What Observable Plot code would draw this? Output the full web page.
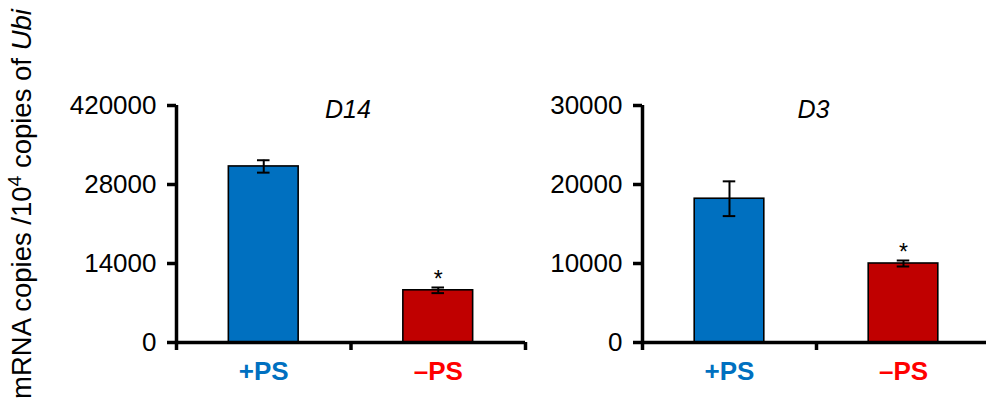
<!DOCTYPE html>
<html>
<head>
<meta charset="utf-8">
<script src="https://cdn.jsdelivr.net/npm/d3@7"></script>
<script src="https://cdn.jsdelivr.net/npm/@observablehq/plot@0.6"></script>
<style>
  html, body { margin: 0; padding: 0; background: #fff; overflow: hidden; }
  body { width: 986px; height: 411px; position: relative; font-family: "Liberation Sans", Arial, sans-serif; }
  .panel { position: absolute; top: 0; width: 530px; height: 411px; }
  .panel svg { max-width: none !important; }
  .ytitle {
    position: absolute; left: 22px; top: 204px; white-space: nowrap;
    transform: translate(-50%, -50%) rotate(-90deg);
    font-size: 27.5px; color: #000; line-height: 1;
  }
  .ytitle sup { font-size: 0.7em; vertical-align: 0.55em; line-height: 0; }
</style>
</head>
<body>
<div class="ytitle">mRNA copies /10<sup>4</sup> copies of <i>Ubi</i></div>
<div id="p1" class="panel" style="left:0px"></div>
<div id="p2" class="panel" style="left:466px"></div>
<script>
// ---- data ----
const groups = ["+PS", "–PS"];
const groupLabelColors = ["#0070C0", "#FF0000"];
const barColors = ["#0070C0", "#C00000"];
const significant = [false, true];

const d14Title = "D14";
const d14Values = [31200, 9250];
const d14Errors = [1100, 500];
const d14Ticks = [0, 14000, 28000, 42000];
const d14TickLabels = ["0", "14000", "28000", "420000"];

const d3Title = "D3";
const d3Values = [18200, 10000];
const d3Errors = [2200, 380];
const d3Ticks = [0, 10000, 20000, 30000];
const d3TickLabels = ["0", "10000", "20000", "30000"];

const FONT = "Liberation Sans, Arial, sans-serif";

function panel({title, values, errors, ticks, tickLabels, width, marginRight}) {
  const rows = groups.map((g, i) => ({
    group: g, idx: i, center: i + 0.5,
    value: values[i], err: errors[i],
    lo: values[i] - errors[i], hi: values[i] + errors[i],
    fill: barColors[i], labelColor: groupLabelColors[i], sig: significant[i]
  }));
  const halfBar = 0.2;
  const halfCap = 0.036;
  const svg = Plot.plot({
    width, height: 411,
    marginLeft: 176, marginRight, marginTop: 105, marginBottom: 69,
    style: {fontFamily: FONT, background: "transparent", overflow: "visible", maxWidth: "none"},
    x: {type: "linear", domain: [0, groups.length], axis: null},
    y: {domain: [ticks[0], ticks[ticks.length - 1]], axis: null},
    marks: [
      Plot.rectY(rows, {
        x1: d => d.center - halfBar, x2: d => d.center + halfBar,
        y1: 0, y2: "value", fill: d => d.fill, stroke: "#000", strokeWidth: 1.6
      }),
      Plot.ruleX(rows, {x: "center", y1: "lo", y2: "hi", stroke: "#000", strokeWidth: 2}),
      Plot.ruleY(rows, {y: "hi", x1: d => d.center - halfCap, x2: d => d.center + halfCap, stroke: "#000", strokeWidth: 2}),
      Plot.ruleY(rows, {y: "lo", x1: d => d.center - halfCap, x2: d => d.center + halfCap, stroke: "#000", strokeWidth: 2}),
      Plot.text(rows.filter(d => d.sig), {
        x: "center", y: "hi", text: () => "*", fontSize: 23, dy: -8, fill: "#000", lineAnchor: "middle"
      }),
      Plot.ruleX([0], {stroke: "#000", strokeWidth: 3.5}),
      Plot.ruleY([0], {stroke: "#000", strokeWidth: 3.5}),
      Plot.axisY({
        ticks, tickFormat: d => tickLabels[ticks.indexOf(d)],
        tickSize: 9, tickPadding: 11, strokeWidth: 3.5, fontSize: 26, label: null, fill: "#000"
      }),
      Plot.axisX({
        ticks: d3.range(groups.length + 1), tickFormat: () => "",
        tickSize: 8, strokeWidth: 3.5, label: null
      }),
      Plot.text(rows, {
        x: "center", frameAnchor: "bottom", text: "group", fill: d => d.labelColor,
        fontSize: 26, fontWeight: "bold", lineAnchor: "middle", dy: 29
      }),
      Plot.text([title], {
        x: groups.length / 2, frameAnchor: "top", text: d => d, fontSize: 25,
        fontStyle: "italic", lineAnchor: "middle", dy: 4, dx: -3, fill: "#000"
      })
    ]
  });
  return svg;
}

document.getElementById("p1").appendChild(panel({
  title: d14Title, values: d14Values, errors: d14Errors,
  ticks: d14Ticks, tickLabels: d14TickLabels, width: 530, marginRight: 5
}));
document.getElementById("p2").appendChild(panel({
  title: d3Title, values: d3Values, errors: d3Errors,
  ticks: d3Ticks, tickLabels: d3TickLabels, width: 530, marginRight: 6
}));
</script>
</body>
</html>
